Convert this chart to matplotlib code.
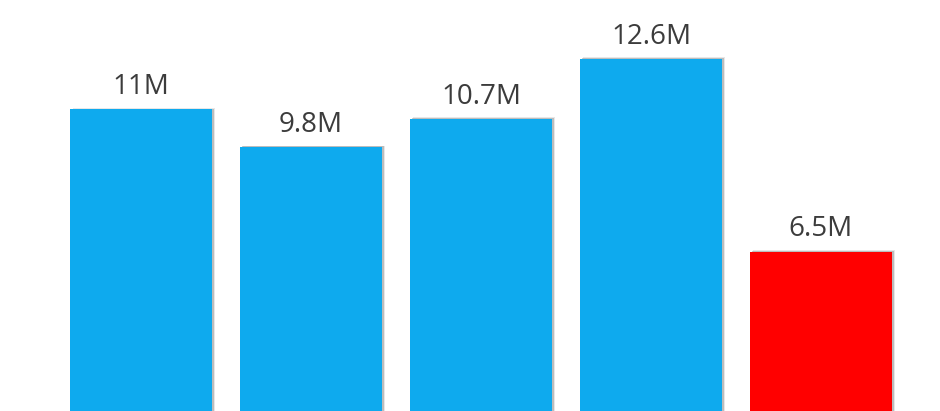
import matplotlib

matplotlib.use("Agg")
import matplotlib.pyplot as plt
import matplotlib.patheffects as pe

categories = ["A", "B", "C", "D", "E"]
values = [11.0, 9.8, 10.7, 12.6, 6.5]
labels = ["11M", "9.8M", "10.7M", "12.6M", "6.5M"]
BLUE = "#0eaaee"
RED = "#ff0000"
colors = [BLUE, BLUE, BLUE, BLUE, RED]

W, H = 940, 411
fig = plt.figure(figsize=(W / 100, H / 100), dpi=100)
# axis baseline sits below the visible picture (chart is cropped)
zero_px = 457
top_val = 14.5
px_per_m = 31.6
bottom = (H - zero_px) / H
height = top_val * px_per_m / H
ax = fig.add_axes([0, bottom, 1, height])

x = range(len(categories))
bars = ax.bar(x, values, width=0.835, color=colors, zorder=3)
for b in bars:
    b.set_path_effects([
        pe.withSimplePatchShadow(offset=(2.2, 1.2), shadow_rgbFace="#bbbbbb", alpha=0.35),
        pe.withSimplePatchShadow(offset=(1.2, 0.6), shadow_rgbFace="#888888", alpha=0.45),
        pe.Normal(),
    ])
for xi, v, lab in zip(x, values, labels):
    ax.annotate(lab, (xi, v), textcoords="offset points", xytext=(0, 6),
                ha="center", va="bottom", fontsize=20, color="#3c3c3c",
                family="Open Sans")

ax.set_xlim(-141 / 170, (W - 141) / 170)
ax.set_ylim(0, top_val)
ax.axis("off")

fig.savefig("out.png", dpi=100)
